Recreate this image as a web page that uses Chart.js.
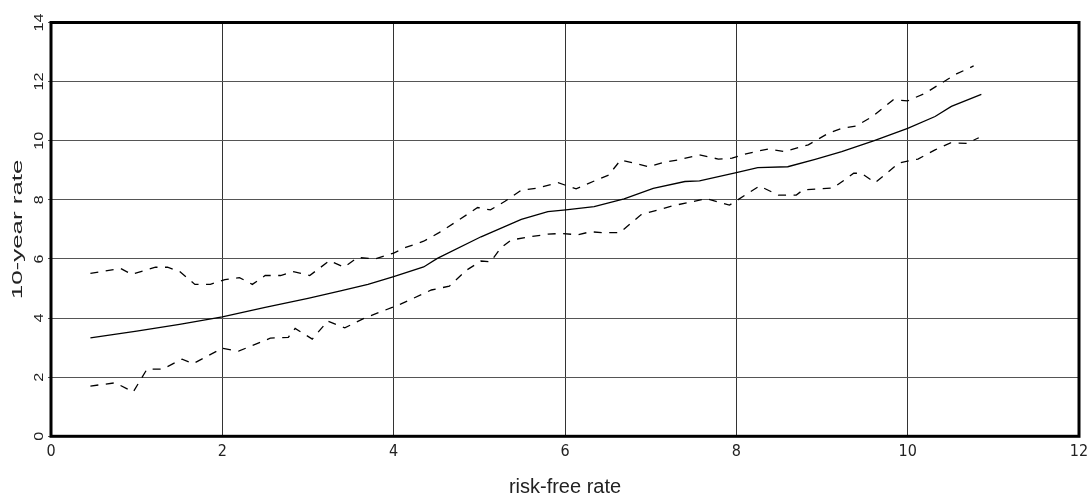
<!DOCTYPE html>
<html>
<head>
<meta charset="utf-8">
<title>10-year rate vs risk-free rate</title>
<script src="https://cdn.jsdelivr.net/npm/chart.js@4.4.1/dist/chart.umd.min.js"></script>
<style>
  html, body { margin: 0; padding: 0; background: #fff; }
  #wrap { width: 1087px; height: 495px; }
</style>
</head>
<body>
<div id="wrap"><canvas id="rateChart"></canvas></div>
<script>
// fitted curve
const midX = [0.46, 1.0, 1.5, 2.0, 2.5, 3.0, 3.38, 3.7, 4.0, 4.35, 4.51, 5.02, 5.49, 5.8, 6.01, 6.34, 6.69, 7.03, 7.4, 7.57, 8.0, 8.25, 8.6, 8.92, 9.23, 9.61, 10.0, 10.32, 10.51, 10.86];
const midY = [3.33, 3.56, 3.79, 4.04, 4.36, 4.67, 4.92, 5.14, 5.40, 5.73, 6.02, 6.75, 7.34, 7.6, 7.66, 7.77, 8.03, 8.39, 8.62, 8.64, 8.92, 9.09, 9.12, 9.37, 9.63, 10.0, 10.42, 10.82, 11.16, 11.57];

// upper band
const upperX = [0.46, 0.81, 0.94, 1.22, 1.36, 1.5, 1.68, 1.86, 2.03, 2.2, 2.35, 2.5, 2.68, 2.83, 3.02, 3.25, 3.42, 3.58, 3.78, 4.0, 4.14, 4.35, 4.53, 4.73, 4.98, 5.13, 5.3, 5.49, 5.66, 5.92, 6.13, 6.36, 6.51, 6.65, 6.98, 7.16, 7.32, 7.57, 7.79, 7.95, 8.1, 8.37, 8.56, 8.84, 9.08, 9.22, 9.4, 9.59, 9.83, 10.0, 10.2, 10.4, 10.57, 10.77];
const upperY = [5.51, 5.68, 5.48, 5.72, 5.72, 5.58, 5.14, 5.14, 5.3, 5.37, 5.14, 5.44, 5.44, 5.57, 5.44, 5.94, 5.72, 6.05, 6.0, 6.2, 6.39, 6.6, 6.89, 7.26, 7.74, 7.66, 7.95, 8.33, 8.39, 8.58, 8.37, 8.66, 8.84, 9.35, 9.12, 9.28, 9.35, 9.52, 9.38, 9.41, 9.55, 9.72, 9.63, 9.86, 10.26, 10.41, 10.5, 10.82, 11.38, 11.35, 11.6, 11.96, 12.26, 12.53];

// lower band
const lowerX = [0.46, 0.75, 0.96, 1.12, 1.3, 1.53, 1.66, 2.0, 2.19, 2.56, 2.77, 2.85, 3.05, 3.23, 3.43, 3.66, 4.08, 4.44, 4.65, 4.85, 5.02, 5.13, 5.25, 5.37, 5.57, 5.8, 5.95, 6.15, 6.3, 6.43, 6.64, 6.89, 7.26, 7.65, 7.92, 8.27, 8.49, 8.7, 8.78, 9.13, 9.37, 9.46, 9.62, 9.9, 10.12, 10.32, 10.5, 10.69, 10.83];
const lowerY = [1.70, 1.81, 1.50, 2.27, 2.27, 2.61, 2.46, 2.98, 2.88, 3.32, 3.35, 3.65, 3.29, 3.9, 3.67, 4.0, 4.47, 4.95, 5.08, 5.62, 5.93, 5.9, 6.37, 6.64, 6.74, 6.84, 6.86, 6.82, 6.92, 6.89, 6.89, 7.5, 7.8, 8.04, 7.82, 8.47, 8.16, 8.16, 8.34, 8.4, 8.9, 8.9, 8.58, 9.25, 9.38, 9.69, 9.93, 9.91, 10.1];

const xTitle = "risk-free rate";
const yTitle = "10-year rate";

function toPoints(xs, ys) {
  return xs.map((x, i) => ({ x: x, y: ys[i] }));
}

// heavy frame round the plot area, rotated y labels and y title
const framePlugin = {
  id: "frame",
  afterDraw(chart) {
    const ctx = chart.ctx;
    const a = chart.chartArea;
    const y = chart.scales.y;

    ctx.save();
    ctx.strokeStyle = "#000";
    ctx.lineWidth = 3;
    ctx.strokeRect(a.left, a.top, a.right - a.left, a.bottom - a.top);

    ctx.fillStyle = "#222";
    ctx.textAlign = "center";
    ctx.textBaseline = "middle";
    ctx.font = "12px 'Liberation Sans', Arial, sans-serif";
    y.ticks.forEach(t => {
      ctx.save();
      ctx.translate(39.5, y.getPixelForValue(t.value));
      ctx.rotate(-Math.PI / 2);
      ctx.scale(1.35, 1);
      ctx.fillText(String(t.value), 0, 0);
      ctx.restore();
    });

    ctx.save();
    ctx.font = "14px 'Liberation Sans', Arial, sans-serif";
    ctx.textBaseline = "alphabetic";
    ctx.translate(22, (a.top + a.bottom) / 2);
    ctx.rotate(-Math.PI / 2);
    ctx.scale(1.85, 1);
    ctx.fillText(yTitle, 0, 0);
    ctx.restore();

    ctx.restore();
  }
};

const ctx = document.getElementById("rateChart").getContext("2d");
new Chart(ctx, {
  type: "line",
  data: {
    datasets: [
      { data: toPoints(midX, midY), borderColor: "#000", borderWidth: 1.3 },
      { data: toPoints(upperX, upperY), borderColor: "#000", borderWidth: 1.3, borderDash: [8, 7.5] },
      { data: toPoints(lowerX, lowerY), borderColor: "#000", borderWidth: 1.3, borderDash: [8, 7.5] }
    ]
  },
  options: {
    responsive: true,
    maintainAspectRatio: false,
    animation: false,
    layout: { padding: { top: 22.5, right: 8, left: 0, bottom: 0 } },
    elements: { point: { radius: 0 }, line: { tension: 0, fill: false } },
    plugins: { legend: { display: false }, tooltip: { enabled: false } },
    scales: {
      x: {
        type: "linear",
        min: 0,
        max: 12,
        ticks: {
          stepSize: 2,
          padding: 6,
          color: "#222",
          font: { family: "'Liberation Sans Narrow', 'DejaVu Sans Condensed', 'Liberation Sans', sans-serif", size: 16 }
        },
        grid: { color: "#333", lineWidth: 1, drawTicks: false },
        border: { display: false },
        title: {
          display: true,
          text: xTitle,
          color: "#222",
          padding: 0,
          font: { family: "'Liberation Sans', Arial, sans-serif", size: 20, lineHeight: 0.8 }
        },
        afterFit(s) {
          s.height = 58.7;
          s.paddingLeft = 0;
          s.paddingRight = 0;
        }
      },
      y: {
        type: "linear",
        min: 0,
        max: 14,
        ticks: { stepSize: 2, display: false },
        grid: { color: "#555", lineWidth: 1, drawTicks: true, tickLength: 3 },
        border: { display: false },
        afterFit(s) {
          s.width = 51;
          s.paddingTop = 0;
          s.paddingBottom = 0;
        }
      }
    }
  },
  plugins: [framePlugin]
});
</script>
</body>
</html>
